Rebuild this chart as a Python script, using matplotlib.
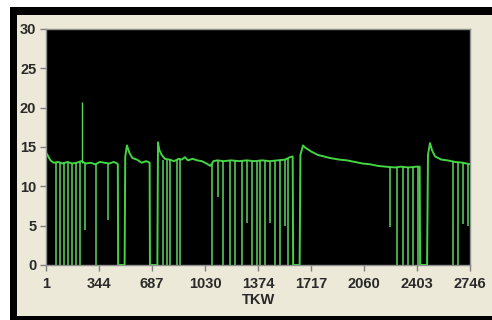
import matplotlib.pyplot as plt
from matplotlib.patches import Rectangle

# baseline trace of the signal (TKW, value)
base_tkw = [1, 10, 30, 50, 80, 110, 140, 170, 200, 230, 260, 290, 320, 350, 380,
            410, 440, 462, 466, 468, 510, 514, 525, 540, 560, 590, 620, 650, 672,
            674, 722, 726, 735, 750, 770, 800, 830, 860, 880, 900, 920, 950, 980,
            1010, 1040, 1065, 1085, 1110, 1150, 1200, 1250, 1300, 1350, 1400, 1450,
            1500, 1550, 1580, 1598, 1601, 1643, 1648, 1665, 1680, 1720, 1760, 1800,
            1840, 1900, 1950, 2000, 2050, 2100, 2150, 2200, 2260, 2300, 2350, 2400,
            2420, 2423, 2468, 2474, 2487, 2500, 2520, 2560, 2600, 2650, 2700, 2746]
base_val = [14.3, 14.0, 13.3, 13.0, 13.1, 12.9, 13.1, 12.9, 13.0, 13.2, 12.9, 13.0,
            12.8, 13.1, 13.0, 12.9, 13.1, 12.9, 12.8, 0, 0, 13.8, 15.2, 14.3, 13.6,
            13.4, 13.0, 13.2, 13.0, 0, 0, 15.6, 14.6, 14.0, 13.5, 13.4, 13.2, 13.5,
            13.4, 13.7, 13.3, 13.5, 13.3, 13.2, 12.9, 12.6, 13.2, 13.3, 13.2, 13.3,
            13.2, 13.3, 13.2, 13.3, 13.2, 13.3, 13.4, 13.7, 13.8, 0, 0, 14.0, 15.2,
            14.9, 14.4, 14.0, 13.8, 13.6, 13.4, 13.3, 13.1, 12.9, 12.8, 12.6, 12.5,
            12.4, 12.5, 12.4, 12.5, 12.5, 0, 0, 14.0, 15.5, 14.6, 13.8, 13.4, 13.3,
            13.1, 13.0, 12.8]

# short drops out of the baseline
dip_tkw = [66, 92, 118, 143, 169, 195, 221, 253, 325, 402,
           758, 784, 804, 849, 868,
           1076, 1115, 1147, 1192, 1225, 1270, 1302, 1335, 1367, 1386, 1419,
           1451, 1484, 1516, 1548, 1568,
           2228, 2273, 2312, 2345, 2377, 2409,
           2636, 2668, 2701, 2733]
dip_low = [0, 0, 0, 0, 0, 0, 0, 4.4, 0, 5.7,
           0, 0, 0, 0, 0,
           0, 8.6, 0, 0, 0, 0, 5.3, 0, 0, 0, 0,
           5.3, 0, 0, 5.0, 0,
           4.8, 0, 0, 0, 0, 0,
           0, 0, 5.2, 5.0]
dip_top = [13.0, 13.0, 13.1, 13.0, 12.9, 13.0, 13.1, 13.0, 12.9, 12.9,
           13.4, 13.4, 13.4, 13.4, 13.5,
           12.8, 13.3, 13.2, 13.3, 13.3, 13.2, 13.3, 13.2, 13.2, 13.3, 13.3,
           13.2, 13.3, 13.3, 13.4, 13.5,
           12.5, 12.4, 12.5, 12.4, 12.5, 12.5,
           13.2, 13.1, 13.0, 12.8]

# single upward spike
spike_tkw = [234]
spike_low = [13.0]
spike_high = [20.7]

x_ticks = [1, 344, 687, 1030, 1374, 1717, 2060, 2403, 2746]
y_ticks = [0, 5, 10, 15, 20, 25, 30]

W, H = 492, 320
fig = plt.figure(figsize=(W / 100, H / 100), dpi=100)
fig.patch.set_facecolor('white')

# window frame: black border, beige panel
fig.add_artist(Rectangle((10 / W, 0), 1, 1 - 7 / H, transform=fig.transFigure,
                         facecolor='black', edgecolor='none', zorder=0))
fig.add_artist(Rectangle((17 / W, 4 / H), 1, 1 - 19 / H, transform=fig.transFigure,
                         facecolor='#ece9d8', edgecolor='none', zorder=0))

ax = fig.add_axes([46 / W, 1 - 265 / H, 424 / W, 236 / H])
ax.set_facecolor('black')

green = '#42d442'
ax.plot(base_tkw, base_val, color=green, lw=1.4)
ax.vlines(dip_tkw, dip_low, dip_top, color='#5cd65c', lw=1.1)
ax.vlines(spike_tkw, spike_low, spike_high, color='#5cd65c', lw=1.0)

ax.set_xlim(1, 2746)
ax.set_ylim(0, 30)
ax.set_xticks(x_ticks)
ax.set_yticks(y_ticks)

font = dict(family='Liberation Sans', size=10.5, weight='bold', color='#2a2a2a')
ax.set_xticklabels([str(v) for v in x_ticks], **font)
ax.set_yticklabels([str(v) for v in y_ticks], **font)
ax.set_xlabel('TKW', labelpad=1, **font)
ax.tick_params(axis='both', color='#808080', length=4, width=1)
ax.tick_params(axis='x', pad=5)
ax.tick_params(axis='y', pad=3)
for s in ax.spines.values():
    s.set_color('#909090')
    s.set_linewidth(1)

fig.savefig('out.png', dpi=100, facecolor=fig.get_facecolor())
